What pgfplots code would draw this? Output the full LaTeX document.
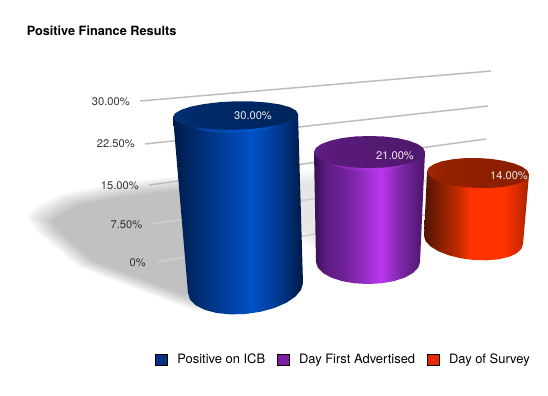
\documentclass[border=0pt]{standalone}
\usepackage{pgfplots}
\pgfplotsset{compat=1.18}
\usepackage{pgfplotstable}
\usepackage{fontspec}
\setmainfont{TeX Gyre Heros}
\definecolor{gridc}{HTML}{BCBCBC}
\definecolor{gridd}{HTML}{CFCFCF}
\definecolor{legblue}{HTML}{0A2F82}
\definecolor{legpurple}{HTML}{7A1FA2}
\definecolor{legred}{HTML}{E52B00}
\definecolor{ticktxt}{HTML}{333333}
\definecolor{blueglow}{HTML}{0060D8}
\definecolor{purpleglow}{HTML}{B838EE}
\pgfdeclarehorizontalshading{bluebody}{100bp}{color(0bp)=(rgb,255:red,0;green,26;blue,70);color(25bp)=(rgb,255:red,0;green,26;blue,70);color(33bp)=(rgb,255:red,0;green,42;blue,108);color(45bp)=(rgb,255:red,0;green,62;blue,155);color(55bp)=(rgb,255:red,0;green,82;blue,198);color(62bp)=(rgb,255:red,0;green,66;blue,165);color(70bp)=(rgb,255:red,0;green,44;blue,112);color(75bp)=(rgb,255:red,0;green,24;blue,64);color(100bp)=(rgb,255:red,0;green,24;blue,64)}
\pgfdeclarehorizontalshading{purplebody}{100bp}{color(0bp)=(rgb,255:red,56;green,16;blue,84);color(25bp)=(rgb,255:red,56;green,16;blue,84);color(31bp)=(rgb,255:red,96;green,28;blue,132);color(38bp)=(rgb,255:red,110;green,32;blue,150);color(45.5bp)=(rgb,255:red,138;green,42;blue,184);color(55bp)=(rgb,255:red,187;green,56;blue,240);color(63.5bp)=(rgb,255:red,128;green,40;blue,168);color(75bp)=(rgb,255:red,74;green,20;blue,104);color(100bp)=(rgb,255:red,74;green,20;blue,104)}
\pgfdeclarehorizontalshading{redbody}{100bp}{color(0bp)=(rgb,255:red,80;green,20;blue,0);color(25bp)=(rgb,255:red,80;green,20;blue,0);color(33bp)=(rgb,255:red,138;green,32;blue,0);color(42bp)=(rgb,255:red,200;green,44;blue,0);color(47bp)=(rgb,255:red,255;green,51;blue,0);color(63bp)=(rgb,255:red,255;green,51;blue,0);color(70bp)=(rgb,255:red,212;green,42;blue,0);color(75bp)=(rgb,255:red,160;green,32;blue,0);color(100bp)=(rgb,255:red,160;green,32;blue,0)}
\pgfdeclarehorizontalshading{bluetop}{100bp}{color(0bp)=(rgb,255:red,0;green,48;blue,116);color(25bp)=(rgb,255:red,0;green,48;blue,116);color(35bp)=(rgb,255:red,0;green,42;blue,106);color(75bp)=(rgb,255:red,0;green,36;blue,92);color(100bp)=(rgb,255:red,0;green,36;blue,92)}
\pgfdeclarehorizontalshading{purpletop}{100bp}{color(0bp)=(rgb,255:red,96;green,28;blue,130);color(25bp)=(rgb,255:red,96;green,28;blue,130);color(35bp)=(rgb,255:red,88;green,26;blue,120);color(75bp)=(rgb,255:red,80;green,24;blue,110);color(100bp)=(rgb,255:red,80;green,24;blue,110)}
\pgfdeclarehorizontalshading{redtop}{100bp}{color(0bp)=(rgb,255:red,160;green,38;blue,0);color(25bp)=(rgb,255:red,160;green,38;blue,0);color(35bp)=(rgb,255:red,146;green,32;blue,0);color(75bp)=(rgb,255:red,138;green,30;blue,0);color(100bp)=(rgb,255:red,138;green,30;blue,0)}
\pgfplotstableread{
x y
40 219
50 210
70 200
120 190
175 184
240 184
240 297
190 303
150 288
87 264
50 233
}\shadowmain
\pgfplotstableread{
x y
296 178
330 172
330 252
296 232
}\shadowtwo
\begin{document}
\begin{tikzpicture}
\useasboundingbox (0,0) rectangle (411pt,296.25pt);
\begin{axis}[
  at={(0,0)},anchor=south west,
  width=411pt,height=296.25pt,scale only axis,
  xmin=0,xmax=548,ymin=0,ymax=395,y dir=reverse,
  hide axis,enlargelimits=false,clip=true,
  /pgf/number format/assume math mode=true,
  legend style={at={(155.5/548,1-360/395)},anchor=west,draw=none,fill=none,
    legend columns=3,font=\fontsize{9.7pt}{11pt}\selectfont,text=black,
    inner sep=0pt,outer sep=0pt,
    /tikz/every even column/.style={column sep=7pt}},
  legend cell align=left,
  legend image code/.code={\fill[#1] (0pt,-4.2pt) rectangle (9pt,4.2pt);\path (14pt,0pt);},
]
% shadows
\pgfplotsinvokeforeach{1.14,1.11,1.08,1.05,1.02,0.99,0.96,0.93,0.90,0.87}{
  \addplot[forget plot,fill=black,draw=none,fill opacity=0.029]
    table[x expr={140+(\thisrow{x}-140)*#1},y expr={240+(\thisrow{y}-240)*#1}]{\shadowmain}--cycle;
}
\pgfplotsinvokeforeach{1.2,1.1,1.0,0.9,0.8}{
  \addplot[forget plot,fill=black,draw=none,fill opacity=0.02]
    table[x expr={312+(\thisrow{x}-312)*#1},y expr={208+(\thisrow{y}-208)*#1}]{\shadowtwo}--cycle;
}
% gridlines
\addplot[forget plot,gridc,line width=1.1pt] coordinates {(140,101) (491,71)};
\addplot[forget plot,gridc,line width=1.1pt] coordinates {(145,144) (488,106)};
\addplot[forget plot,gridc,line width=1.1pt] coordinates {(149,185) (486,139)};
\addplot[forget plot,gridd,line width=1.1pt] coordinates {(153,224) (483,172)};
\addplot[forget plot,gridd,line width=1.1pt] coordinates {(157,262) (480,205)};
% blue cylinder
\addplot[forget plot,shade,shading=bluebody,draw=none] coordinates {
(173,117) (298,114) (303,283) (301,289.9) (295.3,296.7) (286.2,302.8) (274.3,308) (260.4,311.8) (245.5,314) (230.6,314.4) (216.7,313) (204.8,309.9) (195.7,305.3) (190,299.6) (188,293)
} --cycle;
\addplot[forget plot,fill=blueglow,draw=none,fill opacity=0.45] coordinates {
(280,124) (266.8,127) (251.7,128.8) (235.5,129.7) (219.3,129.6) (204.2,128.5) (191.3,126.6)
(204.2,131) (219.3,132.5) (235.5,132.7) (251.7,131.7) (266.8,129.5)
} --cycle;
\addplot[forget plot,shade,shading=bluetop,draw=none] coordinates {
(298,114) (295.9,117.7) (289.6,121.3) (279.7,124.5) (266.8,127) (251.7,128.8) (235.5,129.7) (219.3,129.6) (204.2,128.5) (191.3,126.6) (181.4,123.9) (175.1,120.6) (173,117)
(175.1,113.3) (181.4,109.7) (191.3,106.5) (204.2,104) (219.3,102.2) (235.5,101.3) (251.7,101.4) (266.8,102.5) (279.7,104.4) (289.6,107.1) (295.9,110.4)
} --cycle;
% purple cylinder
\addplot[forget plot,shade,shading=purplebody,draw=none] coordinates {
(314,152) (425,152) (420,262) (418.2,267.7) (413,273) (404.8,277.6) (394,281.1) (381.5,283.3) (368,284) (354.5,283.3) (342,281.1) (331.2,277.6) (323,273) (317.8,267.7) (316,262)
} --cycle;
\addplot[forget plot,fill=purpleglow,draw=none,fill opacity=0.4] coordinates {
(408.7,163.3) (397.3,165.9) (383.9,167.5) (369.5,168) (355.1,167.5) (341.7,165.9) (330.3,163.3)
(341.7,168.4) (355.1,170.4) (369.5,171) (383.9,170.4) (397.3,168.4)
} --cycle;
\addplot[forget plot,shade,shading=purpletop,draw=none] coordinates {
(425,152) (423.1,156.1) (417.6,160) (408.7,163.3) (397.3,165.9) (383.9,167.5) (369.5,168) (355.1,167.5) (341.7,165.9) (330.3,163.3) (321.4,160) (315.9,156.1) (314,152)
(315.9,147.9) (321.4,144) (330.3,140.7) (341.7,138.1) (355.1,136.5) (369.5,136) (383.9,136.5) (397.3,138.1) (408.7,140.7) (417.6,144) (423.1,147.9)
} --cycle;
% red cylinder
\addplot[forget plot,shade,shading=redbody,draw=none] coordinates {
(427,171.5) (529,174.5) (523,244) (521.3,249) (516.4,253.5) (508.5,257) (498.3,259.3) (486.3,260.3) (473.5,260) (460.7,258.3) (448.7,255.3) (438.5,251.3) (430.6,246.5) (425.7,241.3) (424,236)
} --cycle;
\addplot[forget plot,shade,shading=redtop,draw=none] coordinates {
(529,174.5) (527.3,178.3) (522.2,181.8) (514.1,184.7) (503.5,186.8) (491.2,187.9) (478,188) (464.8,187.1) (452.5,185.2) (441.9,182.5) (433.8,179.2) (428.7,175.4) (427,171.5)
(428.7,167.7) (433.8,164.2) (441.9,161.3) (452.5,159.3) (464.8,158.1) (478,158) (491.2,158.9) (503.5,160.8) (514.1,163.5) (522.2,166.8) (527.3,170.6)
} --cycle;
% value labels
\addplot[forget plot,draw=none,mark=none,point meta=explicit,
  nodes near coords={\pgfmathprintnumber[fixed,fixed zerofill,precision=2]{\pgfplotspointmeta}\%},
  every node near coord/.style={anchor=center,inner sep=0pt,text=white!92!black,font=\fontsize{8.35pt}{10pt}\selectfont}]
  coordinates {(253,116) [30] (395,155.5) [21] (509,175.5) [14]};
% tick labels
\addplot[forget plot,draw=none,mark=none,point meta=explicit,
  nodes near coords={\pgfmathprintnumber[fixed,fixed zerofill,precision=2]{\pgfplotspointmeta}\%},
  every node near coord/.style={anchor=east,inner sep=0pt,text=ticktxt,font=\fontsize{8.35pt}{10pt}\selectfont}]
  coordinates {(130,102) [30] (135,143.5) [22.5] (139,186) [15] (142.5,225) [7.5]};
\addplot[forget plot,draw=none,mark=none,point meta=explicit,
  nodes near coords={\pgfmathprintnumber{\pgfplotspointmeta}\%},
  every node near coord/.style={anchor=east,inner sep=0pt,text=ticktxt,font=\fontsize{8.35pt}{10pt}\selectfont}]
  coordinates {(146,263) [0]};
% title
\node[anchor=west,inner sep=0pt,font=\fontsize{9.55pt}{11pt}\selectfont\bfseries] at (axis cs:26.5,31) {Positive Finance Results};
% legend
\addlegendimage{fill=legblue}
\addlegendentry{Positive on ICB}
\addlegendimage{fill=legpurple}
\addlegendentry{Day First Advertised}
\addlegendimage{fill=legred}
\addlegendentry{Day of Survey}
\end{axis}
\end{tikzpicture}
\end{document}
